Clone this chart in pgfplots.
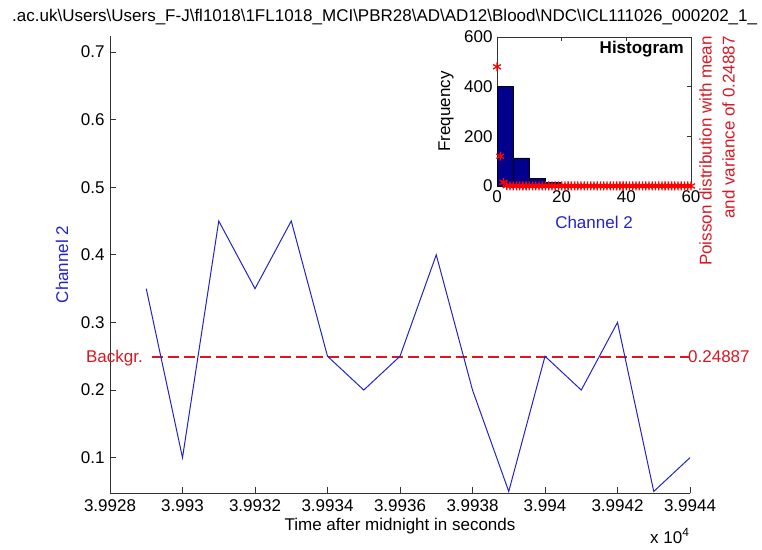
\documentclass[border=0pt]{standalone}
\usepackage{pgfplots}
\pgfplotsset{compat=1.18}
\usepackage{fontspec}
\setmainfont{Liberation Sans}
\definecolor{mred}{RGB}{215,25,35}
\definecolor{mblue}{RGB}{35,35,200}
\definecolor{navybar}{RGB}{0,0,140}
\begin{document}
\begin{tikzpicture}[font=\fontsize{17}{20}\selectfont]
\useasboundingbox (0pt,0pt) rectangle (762pt,549pt);
% main axis
\begin{axis}[
  at={(110pt,56pt)}, anchor=south west,
  scale only axis, width=580pt, height=457pt,
  xmin=39928, xmax=39944, ymin=0.0477, ymax=0.7237,
  axis x line*=bottom, axis y line*=left,
  axis line style={-, black!80, line width=0.7pt},
  tick align=inside, major tick length=6pt,
  tick style={black!80, line width=0.7pt},
  xtick={39928,39930,39932,39934,39936,39938,39940,39942,39944},
  xticklabels={3.9928,3.993,3.9932,3.9934,3.9936,3.9938,3.994,3.9942,3.9944},
  ytick={0.1,0.2,0.3,0.4,0.5,0.6,0.7},
  yticklabels={0.1,0.2,0.3,0.4,0.5,0.6,0.7},
  scaled x ticks=false, scaled y ticks=false,
  xticklabel style={yshift=-3pt},
  yticklabel style={xshift=-2pt},
  clip=false,
]
\addplot[mred, line width=1.2pt, dash pattern=on 11pt off 5pt, mark=none] coordinates {(39929.15,0.24887) (39944,0.24887)};
\addplot[mblue, line width=1pt, mark=none] coordinates {
(39929,0.35) (39930,0.10) (39931,0.45) (39932,0.35) (39933,0.45) (39934,0.25)
(39935,0.20) (39936,0.25) (39937,0.40) (39938,0.20) (39939,0.05) (39940,0.25)
(39941,0.20) (39942,0.30) (39943,0.05) (39944,0.10)};
\end{axis}
% main labels
\node[anchor=base west, inner sep=0] at (12pt,527pt) {.ac.uk\textbackslash Users\textbackslash Users\_F-J\textbackslash fl1018\textbackslash 1FL1018\_MCI\textbackslash PBR28\textbackslash AD\textbackslash AD12\textbackslash Blood\textbackslash NDC\textbackslash ICL111026\_000202\_1\_};
\node[rotate=90, anchor=base, inner sep=0, mblue] at (68pt,284.5pt) {Channel 2};
\node[anchor=base, inner sep=0] at (400pt,19pt) {Time after midnight in seconds};
\node[anchor=base west, inner sep=0] at (650pt,6pt) {x 10\textsuperscript{4}};
\node[anchor=base east, inner sep=0, mred] at (143pt,186pt) {Backgr.};
\node[anchor=base west, inner sep=0, mred] at (688pt,186pt) {0.24887};
% inset histogram
\begin{axis}[
  at={(497pt,363pt)}, anchor=south west,
  scale only axis, width=194pt, height=149pt,
  xmin=0, xmax=60, ymin=0, ymax=600,
  xtick={0,20,40,60}, xticklabels={0,20,40,60},
  ytick={0,200,400,600}, yticklabels={0,200,400,600},
  tick align=inside, major tick length=4pt,
  axis line style={black!80, line width=0.7pt},
  tick style={black!80, line width=0.7pt},
  axis background/.style={fill=white},
  xticklabel style={yshift=-1pt},
  yticklabel style={xshift=-1pt},
  clip=false,
]
\addplot[ybar interval, fill=navybar, draw=black, line width=0.6pt] coordinates {
(0,400) (5,113) (10,32) (15,14) (20,7) (25,4) (30,3) (35,2) (40,2) (45,1) (50,1) (55,1) (60,0)};
\addplot[only marks, mark=asterisk, mark size=4.5pt, red, mark options={line width=1.3pt, red}] coordinates {
(0,480) (1,120) (2,15) (3,1.2) (4,0.1) (5,0) (6,0) (7,0) (8,0) (9,0)
(10,0) (11,0) (12,0) (13,0) (14,0) (15,0) (16,0) (17,0) (18,0) (19,0)
(20,0) (21,0) (22,0) (23,0) (24,0) (25,0) (26,0) (27,0) (28,0) (29,0)
(30,0) (31,0) (32,0) (33,0) (34,0) (35,0) (36,0) (37,0) (38,0) (39,0)
(40,0) (41,0) (42,0) (43,0) (44,0) (45,0) (46,0) (47,0) (48,0) (49,0)
(50,0) (51,0) (52,0) (53,0) (54,0) (55,0) (56,0) (57,0) (58,0) (59,0) (60,0)};
\end{axis}
\node[rotate=90, anchor=base, inner sep=0] at (450pt,437.5pt) {Frequency};
\node[anchor=base, inner sep=0, mblue] at (594pt,320pt) {Channel 2};
\node[anchor=base east, inner sep=0, font=\fontsize{17}{20}\selectfont\bfseries] at (684pt,495.7pt) {Histogram};
\node[rotate=90, anchor=base east, inner sep=0, mred] at (711.5pt,513pt) {Poisson distribution with mean};
\node[rotate=90, anchor=base east, inner sep=0, mred] at (734.5pt,513pt) {and variance of 0.24887};
\end{tikzpicture}
\end{document}
